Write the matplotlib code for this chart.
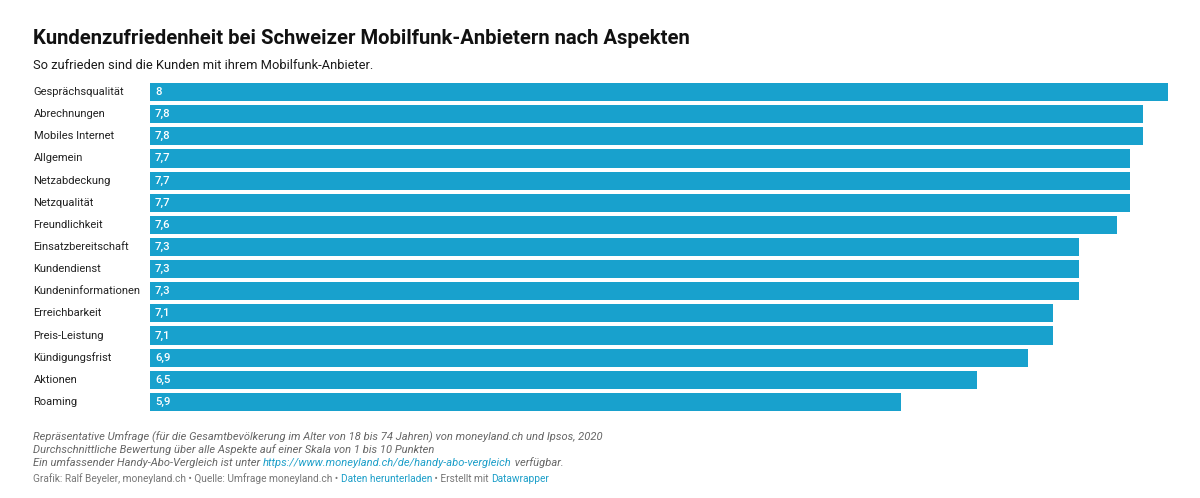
"""Kundenzufriedenheit bei Schweizer Mobilfunk-Anbietern, horizontal bar chart."""
import matplotlib
matplotlib.use('Agg')
import matplotlib.pyplot as plt

plt.rcParams['font.family'] = ['Roboto', 'DejaVu Sans']

categories = ['Gesprächsqualität', 'Abrechnungen', 'Mobiles Internet', 'Allgemein',
              'Netzabdeckung', 'Netzqualität', 'Freundlichkeit', 'Einsatzbereitschaft',
              'Kundendienst', 'Kundeninformationen', 'Erreichbarkeit', 'Preis-Leistung',
              'Kündigungsfrist', 'Aktionen', 'Roaming']
values = [8, 7.8, 7.8, 7.7, 7.7, 7.7, 7.6, 7.3, 7.3, 7.3, 7.1, 7.1, 6.9, 6.5, 5.9]
value_labels = ['8', '7,8', '7,8', '7,7', '7,7', '7,7', '7,6', '7,3', '7,3', '7,3',
                '7,1', '7,1', '6,9', '6,5', '5,9']

W, H = 1200, 498
BLUE = '#18a1cd'
LINK = '#1d9fc9'
DARK = '#1a1a1a'
GREY = '#777777'
NOTE = '#666666'

fig = plt.figure(figsize=(W / 100, H / 100), dpi=100, facecolor='white')
ax = fig.add_axes([150 / W, 1 - 413 / H, (1168 - 150) / W, (413 - 81) / H])

y = range(len(categories))
ax.barh(y, values, height=0.82, color=BLUE)
ax.set_xlim(0, 8)
ax.set_ylim(len(categories) - 0.5, -0.5)
ax.axis('off')

for i, (name, label) in enumerate(zip(categories, value_labels)):
    ax.annotate(name, xy=(0, i), xycoords=('axes fraction', 'data'), xytext=(-116.5, 0),
                textcoords='offset pixels', ha='left', va='center', fontsize=8.05, color='#222222')
    ax.annotate(label, xy=(0, i), xytext=(5, 0), textcoords='offset pixels',
                ha='left', va='center', fontsize=8.2, color='white', fontweight='medium')


def put(x, y_px, text, **kw):
    return fig.text(x / W, 1 - y_px / H, text, va='center', ha='left', **kw)


def after(prev, text, **kw):
    # continue a line right after the previous piece of text
    return ax.annotate(text, xy=(1, 0), xycoords=prev, va='bottom', ha='left',
                       annotation_clip=False, **kw)


put(33, 38.5, 'Kundenzufriedenheit bei Schweizer Mobilfunk-Anbietern nach Aspekten',
    fontsize=14.57, fontweight='bold', color='#111111')
put(33, 65.5, 'So zufrieden sind die Kunden mit ihrem Mobilfunk-Anbieter.',
    fontsize=9.27, color=DARK)

note_kw = dict(fontsize=8.0, style='italic')
put(33, 437, 'Repräsentative Umfrage (für die Gesamtbevölkerung im Alter von 18 bis 74 Jahren) '
    'von moneyland.ch und Ipsos, 2020', color=NOTE, **note_kw)
put(33, 450, 'Durchschnittliche Bewertung über alle Aspekte auf einer Skala von 1 bis 10 Punkten',
    color=NOTE, **note_kw)
t = put(33, 462.5, 'Ein umfassender Handy-Abo-Vergleich ist unter ', color=NOTE, **note_kw)
t = after(t, 'https://www.moneyland.ch/de/handy-abo-vergleich', color=LINK, **note_kw)
after(t, ' verfügbar.', color=NOTE, **note_kw)

foot_kw = dict(fontsize=7.33)
t = put(33, 479, 'Grafik: Ralf Beyeler, moneyland.ch • Quelle: Umfrage moneyland.ch • ',
        color=GREY, **foot_kw)
t = after(t, 'Daten herunterladen', color=LINK, **foot_kw)
t = after(t, ' • Erstellt mit ', color=GREY, **foot_kw)
after(t, 'Datawrapper', color=LINK, **foot_kw)

fig.savefig('out.png', dpi=100, facecolor='white')
